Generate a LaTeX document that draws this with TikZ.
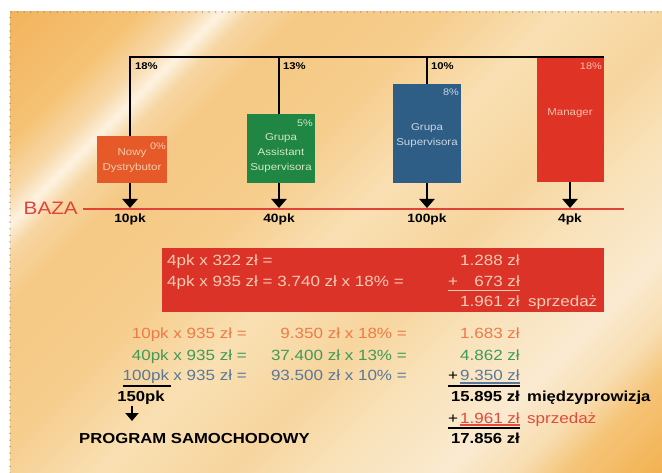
\documentclass[tikz,border=0pt]{standalone}
\usepackage{fontspec}
\setmainfont[FakeStretch=1.15]{Liberation Sans}
\usetikzlibrary{arrows.meta}
\definecolor{bg0}{HTML}{F3B35C}
\definecolor{bg1}{HTML}{F5C274}
\definecolor{bg2}{HTML}{F8D8A8}
\definecolor{bg3}{HTML}{FEF2E0}
\definecolor{bg4}{HTML}{F7D6A2}
\definecolor{bg5}{HTML}{F5C985}
\definecolor{bg6}{HTML}{F6CD8C}
\definecolor{bg7}{HTML}{F9E0B3}
\definecolor{bg8}{HTML}{F7D59E}
\definecolor{bg9}{HTML}{F9E2BA}
\definecolor{bg10}{HTML}{FAEAD0}
\definecolor{bg11}{HTML}{F8DDB0}
\definecolor{bg12}{HTML}{F5C478}
\definecolor{bg13}{HTML}{F2B252}
\definecolor{nowyc}{HTML}{E55A28}
\definecolor{greenc}{HTML}{1F8743}
\definecolor{bluec}{HTML}{2E5D86}
\definecolor{mgrc}{HTML}{DF3326}
\definecolor{calcred}{HTML}{DC3328}
\definecolor{nowyt}{HTML}{F6CDB0}
\definecolor{greent}{HTML}{D3E6C6}
\definecolor{bluet}{HTML}{CBD6E2}
\definecolor{mgrt}{HTML}{F5C2AA}
\definecolor{calct}{HTML}{F7CBB4}
\definecolor{orgt}{HTML}{EE7B47}
\definecolor{grnt}{HTML}{3F9B55}
\definecolor{blut}{HTML}{5A7898}
\definecolor{redt}{HTML}{E24A3A}
\definecolor{bazar}{HTML}{E04437}
\definecolor{dotc}{HTML}{8A8C98}
\begin{document}
\begin{tikzpicture}[x=1pt,y=-1pt,
  box/.style={draw=none, inner sep=0pt, anchor=north west},
  boxtxt/.style={font=\fontsize{10}{12}\selectfont, inner sep=0pt, anchor=base},
  pct/.style={font=\fontsize{9.5}{11}\selectfont, inner sep=0pt, anchor=base east},
  toppct/.style={font=\bfseries\fontsize{9.8}{11}\selectfont, inner sep=0pt, anchor=base west},
  pk/.style={font=\bfseries\fontsize{12}{14}\selectfont, inner sep=0pt, anchor=base},
  conn/.style={line width=2.6pt},
  arr/.style={line width=2.2pt, -{Triangle[width=15pt,length=9pt]}},
  sarr/.style={line width=2pt, -{Triangle[width=13pt,length=8pt]}},
  calc/.style={font=\fontsize{14.8}{16}\selectfont, inner sep=0pt},
  calcb/.style={font=\bfseries\fontsize{14.5}{16}\selectfont, inner sep=0pt},
  dotbrd/.style={draw=dotc, line width=1.5pt, line cap=round, dash pattern=on 0pt off 6.6pt}]
\useasboundingbox (0,0) rectangle (662,473);
% background: bands along x+y
\begin{scope}
\clip (10,12) rectangle (662,473);
\foreach \a/\b/\ca/\cb in {0/22/bg0/bg0, 22/150/bg0/bg1, 150/205/bg1/bg2, 205/235/bg2/bg3,
  235/262/bg3/bg4, 262/320/bg4/bg5, 320/450/bg5/bg6, 450/575/bg6/bg7, 575/700/bg7/bg8,
  700/800/bg8/bg9, 800/920/bg9/bg10, 920/990/bg10/bg11, 990/1040/bg11/bg12,
  1040/1135/bg12/bg13, 1135/1200/bg13/bg13}{
  \pgfmathsetmacro\n{int(ceil((\b-\a)/4))}
  \foreach \j in {1,...,\n}{
    \pgfmathsetmacro\lo{\a+(\j-1)*(\b-\a)/\n}
    \pgfmathsetmacro\hi{\a+\j*(\b-\a)/\n+1}
    \pgfmathsetmacro\p{100*(\j-0.5)/\n}
    \fill[\cb!\p!\ca] (\lo,0) -- (\hi,0) -- (\hi-800,800) -- (\lo-800,800) -- cycle;
  }
}
\end{scope}
\draw[dotbrd] (10,473) -- (10,12) -- (662,12);

% boxes
\node[box, fill=nowyc, minimum width=70pt, minimum height=47pt] (nowy) at (97,136) {};
\node[box, fill=greenc, minimum width=68pt, minimum height=69pt] (grp) at (247,114) {};
\node[box, fill=bluec, minimum width=68pt, minimum height=99pt] (sup) at (393,84) {};
\node[box, fill=mgrc, minimum width=67pt, minimum height=125pt] (mgr) at (537,57) {};

\node[boxtxt, text=nowyt] (nowy1) at (132,156) {Nowy};
\node[boxtxt, text=nowyt] (nowy2) at (132,171) {Dystrybutor};
\node[pct, text=nowyt] (nowyp) at (166,150) {0\%};
\node[boxtxt, text=greent] (grp1) at (281,141) {Grupa};
\node[boxtxt, text=greent] (grp2) at (281,156) {Assistant};
\node[boxtxt, text=greent] (grp3) at (281,171) {Supervisora};
\node[pct, text=greent] (grpp) at (313,127) {5\%};
\node[boxtxt, text=bluet] (sup1) at (427,131) {Grupa};
\node[boxtxt, text=bluet] (sup2) at (427,146) {Supervisora};
\node[pct, text=bluet] (supp) at (459,96) {8\%};
\node[boxtxt, text=mgrt] (mgr1) at (570,116) {Manager};
\node[pct, text=mgrt] (mgrp) at (602,70) {18\%};

% top connector
\coordinate (t1) at (130,57);
\coordinate (t2) at (279,57);
\coordinate (t3) at (427,57);
\coordinate (t4) at (604,57);
\draw[conn] (t4) -- (t1) -- (t1 |- nowy.north);
\draw[conn] (t2) -- (t2 |- grp.north);
\draw[conn] (t3) -- (t3 |- sup.north);
\node[toppct] (p1) at (135,70) {18\%};
\node[toppct] (p2) at (283,70) {13\%};
\node[toppct] (p3) at (431,70) {10\%};

% baza line
\coordinate (b0) at (83,209);
\coordinate (b1) at (624,209);
\coordinate (t5) at (570,57);
\draw[bazar, line width=2.6pt] (b0) -- (b1);
\node[font=\fontsize{18}{20}\selectfont, text=bazar, inner sep=0pt, anchor=base east] (baza) at (78,215) {BAZA};
\draw[arr] (t1 |- nowy.south) -- ([yshift=1pt]t1 |- b0);
\draw[arr] (t2 |- grp.south) -- ([yshift=1pt]t2 |- b0);
\draw[arr] (t3 |- sup.south) -- ([yshift=1pt]t3 |- b0);
\draw[arr] (t5 |- mgr.south) -- ([yshift=1pt]t5 |- b0);
\node[pk] (k1) at (130,223) {10pk};
\node[pk] (k2) at (279,223) {40pk};
\node[pk] (k3) at (427,223) {100pk};
\node[pk] (k4) at (570,223) {4pk};

% red calculation box
\node[box, fill=calcred, minimum width=442pt, minimum height=64pt] (calcbox) at (162,248) {};
\node[calc, text=calct, anchor=base west] (r1a) at (167,266) {4pk x 322 zł =};
\node[calc, text=calct, anchor=base east] (r1b) at (520,266) {1.288 zł};
\node[calc, text=calct, anchor=base west] (r2a) at (167,287) {4pk x 935 zł = 3.740 zł x 18\% =};
\node[calc, text=calct, anchor=base west] (r2p) at (448,287) {+};
\node[calc, text=calct, anchor=base east] (r2b) at (520,287) {673 zł};
\draw[calct, line width=1.2pt] ([yshift=-3.5pt]r2p.base west) -- ([yshift=-3.5pt]r2b.base east);
\node[calc, text=calct, anchor=base east] (r3a) at (520,307) {1.961 zł};
\node[calc, text=calct, anchor=base west] (r3b) at (528,307) {sprzedaż};

% rows
\node[calc, text=orgt, anchor=base east] (o1) at (247,339) {10pk x 935 zł =};
\node[calc, text=orgt, anchor=base east] (o2) at (407,339) {9.350 zł x 18\% =};
\node[calc, text=orgt, anchor=base east] (o3) at (520,339) {1.683 zł};
\node[calc, text=grnt, anchor=base east] (g1) at (247,360) {40pk x 935 zł =};
\node[calc, text=grnt, anchor=base east] (g2) at (407,360) {37.400 zł x 13\% =};
\node[calc, text=grnt, anchor=base east] (g3) at (520,360) {4.862 zł};
\node[calc, text=blut, anchor=base east] (u1b) at (247,381) {x 935 zł =};
\node[calc, text=blut, anchor=base east] (u1a) at ([xshift=-4pt]u1b.base west) {100pk};
\draw[blut, line width=1.2pt] ([yshift=-2pt]u1a.south west) -- ([yshift=-2pt]u1a.south east);
\node[calc, text=blut, anchor=base east] (u2) at (407,381) {93.500 zł x 10\% =};
\node[calc, anchor=base west] (u3p) at (448,381) {+};
\node[calc, text=blut, anchor=base east] (u3) at (520,381) {9.350 zł};
\draw[blut, line width=1.2pt] ([yshift=-2pt]u3.base west) -- ([yshift=-2pt]u3.base east);
\draw[line width=2pt] ([yshift=-4.5pt]u3p.base west) -- ([yshift=-4.5pt]u3.base east);
\draw[line width=1.6pt] ([yshift=-4.8pt]u1a.base west) -- ([yshift=-4.8pt,xshift=2pt]u1a.base east);

\node[calcb, anchor=base] (s150) at (141,402) {150pk};
\coordinate (pa) at (132,406);
\coordinate (pb) at (132,421);
\draw[sarr] (pa) -- (pb);
\node[calcb, anchor=base west] (prog) at (79,443) {PROGRAM SAMOCHODOWY};

\node[calcb, anchor=base east] (m1) at (520,402) {15.895 zł};
\node[calcb, anchor=base west] (m2) at (527,402) {międzyprowizja};
\node[calc, anchor=base west] (sp) at (448,423) {+};
\node[calc, text=redt, anchor=base east] (s1) at (520,423) {1.961 zł};
\draw[redt, line width=1.2pt] ([yshift=-2pt]s1.base west) -- ([yshift=-2pt]s1.base east);
\node[calc, text=redt, anchor=base west] (s2) at (527,423) {sprzedaż};
\draw[line width=2pt] ([yshift=-4.5pt]sp.base west) -- ([yshift=-4.5pt]s1.base east);
\node[calcb, anchor=base east] (tot) at (520,443) {17.856 zł};
\end{tikzpicture}
\end{document}
